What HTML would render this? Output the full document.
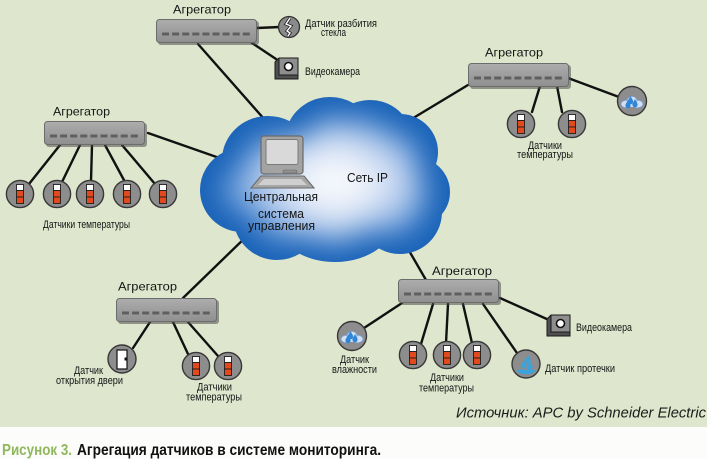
<!DOCTYPE html>
<html><head><meta charset="utf-8">
<style>
html,body{margin:0;padding:0;background:#fcfdfa;}
svg{display:block;}
text{font-family:"Liberation Sans","DejaVu Sans",sans-serif;}
</style></head>
<body>
<svg width="707" height="459" viewBox="0 0 707 459" xmlns="http://www.w3.org/2000/svg">
<defs>
  <linearGradient id="ag" x1="0" y1="0" x2="0" y2="1">
    <stop offset="0" stop-color="#adadad"/>
    <stop offset="1" stop-color="#8f8f8f"/>
  </linearGradient>
  <radialGradient id="rg" gradientUnits="userSpaceOnUse" cx="335" cy="182" r="120" gradientTransform="translate(335 182) scale(1 0.72) translate(-335 -182)">
    <stop offset="0" stop-color="#ffffff"/>
    <stop offset="0.45" stop-color="#f3f6fc"/>
    <stop offset="0.75" stop-color="#b9cfee"/>
    <stop offset="1" stop-color="#6c9fdc"/>
  </radialGradient>
  <g id="agg">
    <rect x="2" y="2" width="101" height="24" rx="3" fill="#4e4e4e" opacity=".55"/>
    <rect x="0.5" y="0.5" width="100" height="23" rx="3" fill="url(#ag)" stroke="#6c6c6c"/>
    <g fill="#5f5f5f">
      <rect x="6" y="13.5" width="7" height="3"/>
      <rect x="16.1" y="13.5" width="7" height="3"/>
      <rect x="26.2" y="13.5" width="7" height="3"/>
      <rect x="36.3" y="13.5" width="7" height="3"/>
      <rect x="46.4" y="13.5" width="7" height="3"/>
      <rect x="56.5" y="13.5" width="7" height="3"/>
      <rect x="66.6" y="13.5" width="7" height="3"/>
      <rect x="76.7" y="13.5" width="7" height="3"/>
      <rect x="86.8" y="13.5" width="7" height="3"/>
    </g>
  </g>
  <g id="temp">
    <circle r="13.6" fill="#8d8d8d" stroke="#383838" stroke-width="1.4"/>
    <rect x="-3.5" y="-9.5" width="7" height="6" fill="#fff" stroke="#1e1e1e" stroke-width=".9"/>
    <rect x="-3.5" y="-3.5" width="7" height="6.5" fill="#e2491c" stroke="#1e1e1e" stroke-width=".9"/>
    <rect x="-3.5" y="3" width="7" height="6.5" fill="#e2491c" stroke="#1e1e1e" stroke-width=".9"/>
  </g>
  <g id="cam">
    <polygon points="4,0 23,0 23,21 0,21 0,4" fill="#4f4f4f" stroke="#1a1a1a" stroke-width="1"/>
    <rect x="4" y="0" width="19" height="17" fill="#8e8e8e" stroke="#1a1a1a" stroke-width="1"/>
    <circle cx="13.5" cy="8.5" r="4" fill="#fff" stroke="#111" stroke-width="1.6"/>
  </g>
  <path id="drop" d="M0,-4 C1.2,-1.5 2.6,0 2.6,1.6 A2.6,2.6 0 0 1 -2.6,1.6 C-2.6,0 -1.2,-1.5 0,-4Z"/>
  <g id="hum">
    <circle r="14.5" fill="#8d8d8d" stroke="#383838" stroke-width="1.4"/>
    <g fill="#d3e0f3" stroke="#7d9fd0" stroke-width=".8">
      <ellipse cx="-5.5" cy="3" rx="5.5" ry="3.8"/>
      <ellipse cx="5.5" cy="3" rx="5.5" ry="3.8"/>
      <ellipse cx="0" cy="0" rx="5" ry="4.6"/>
    </g>
    <ellipse cx="0" cy="3" rx="9" ry="3" fill="#d3e0f3"/>
    <use href="#drop" x="-1.5" y="-1" fill="#2f86d6"/>
    <use href="#drop" x="3" y="2" fill="#2f86d6"/>
    <use href="#drop" x="-4" y="3" fill="#2f86d6"/>
  </g>
  <g id="leak">
    <circle r="14" fill="#8d8d8d" stroke="#383838" stroke-width="1.4"/>
    <use href="#drop" x="2" y="-5" fill="#3aa3dc"/>
    <use href="#drop" x="-2" y="0" fill="#3aa3dc"/>
    <use href="#drop" x="4" y="1.5" fill="#3aa3dc"/>
    <path d="M-10,7 Q-4,4 0,6 Q4,4 10,7 Q4,11 0,10 Q-4,11 -10,7Z" fill="#3aa3dc"/>
  </g>
  <clipPath id="cc">
    <ellipse cx="330" cy="185" rx="92" ry="62"/>
    <ellipse cx="330" cy="140" rx="45" ry="43"/>
    <ellipse cx="370" cy="140" rx="42" ry="40"/>
    <ellipse cx="268" cy="160" rx="46" ry="44"/>
    <circle cx="242" cy="190" r="42"/>
    <circle cx="277" cy="216" r="44"/>
    <ellipse cx="335" cy="216" rx="62" ry="46"/>
    <circle cx="400" cy="212" r="42"/>
    <ellipse cx="412" cy="192" rx="38" ry="36"/>
    <circle cx="400" cy="152" r="38"/>
  </clipPath>
  <filter id="soft" x="-30%" y="-30%" width="160%" height="160%">
    <feMorphology operator="erode" radius="16"/>
    <feGaussianBlur stdDeviation="14"/>
  </filter>
</defs>

<!-- backgrounds -->
<rect x="0" y="0" width="707" height="427" fill="#dee6cd"/>
<rect x="0" y="427" width="707" height="32" fill="#fcfdfa"/>

<!-- connectors -->
<g stroke="#111" stroke-width="2.4" stroke-linecap="round" fill="none">
  <line x1="198" y1="44" x2="265" y2="120"/>
  <line x1="257" y1="28" x2="280" y2="27"/>
  <line x1="252" y1="43" x2="279" y2="61"/>
  <line x1="148" y1="133" x2="228" y2="161"/>
  <line x1="60" y1="145" x2="29" y2="184"/>
  <line x1="80" y1="145" x2="62" y2="182"/>
  <line x1="92" y1="145" x2="91" y2="181"/>
  <line x1="105" y1="145" x2="125" y2="182"/>
  <line x1="122" y1="145" x2="155" y2="184"/>
  <line x1="468" y1="85" x2="405" y2="123"/>
  <line x1="540" y1="86" x2="532" y2="112"/>
  <line x1="557" y1="86" x2="562" y2="112"/>
  <line x1="568" y1="78" x2="619" y2="97"/>
  <line x1="183" y1="298" x2="250" y2="233"/>
  <line x1="150" y1="322" x2="133" y2="348"/>
  <line x1="173" y1="322" x2="188" y2="354"/>
  <line x1="188" y1="322" x2="218" y2="356"/>
  <line x1="426" y1="280" x2="404" y2="242"/>
  <line x1="402" y1="303" x2="364" y2="328"/>
  <line x1="433" y1="304" x2="421" y2="344"/>
  <line x1="448" y1="304" x2="446" y2="343"/>
  <line x1="463" y1="304" x2="472" y2="343"/>
  <line x1="483" y1="304" x2="517" y2="353"/>
  <line x1="500" y1="298" x2="549" y2="320"/>
</g>

<!-- cloud -->
<g clip-path="url(#cc)">
  <rect x="190" y="90" width="270" height="180" fill="#1a63b8"/>
  <g filter="url(#soft)" fill="url(#rg)">
    <ellipse cx="330" cy="185" rx="92" ry="62"/>
    <ellipse cx="330" cy="140" rx="45" ry="43"/>
    <ellipse cx="370" cy="140" rx="42" ry="40"/>
    <ellipse cx="268" cy="160" rx="46" ry="44"/>
    <circle cx="242" cy="190" r="42"/>
    <circle cx="277" cy="216" r="44"/>
    <ellipse cx="335" cy="216" rx="62" ry="46"/>
    <circle cx="400" cy="212" r="42"/>
    <ellipse cx="412" cy="192" rx="38" ry="36"/>
    <circle cx="400" cy="152" r="38"/>
  </g>
</g>

<!-- computer -->
<rect x="261" y="136" width="42" height="38" rx="3" fill="#a3a3a3" stroke="#6a6a6a" stroke-width="1.2"/>
<rect x="266" y="139.5" width="32" height="25" rx="2" fill="#d9d9d9" stroke="#7a7a7a" stroke-width="1"/>
<rect x="283" y="170" width="14" height="3" rx="1.5" fill="#8f8f8f" stroke="#6a6a6a" stroke-width=".6"/>
<polygon points="261,176 304,176 314,188 251,188" fill="#a6a6a6" stroke="#6a6a6a" stroke-width="1.1"/>
<polygon points="264,179 301,179 307,185 258,185" fill="#cfcfcf"/>

<!-- cloud texts -->
<g fill="#151515" font-size="12.5">
  <text x="347" y="182" textLength="41" lengthAdjust="spacingAndGlyphs">Сеть IP</text>
  <text x="244" y="201" textLength="74" lengthAdjust="spacingAndGlyphs">Центральная</text>
  <text x="258" y="218" textLength="46" lengthAdjust="spacingAndGlyphs">система</text>
  <text x="248" y="230" textLength="67" lengthAdjust="spacingAndGlyphs">управления</text>
</g>

<!-- aggregators -->
<use href="#agg" x="156" y="19"/>
<use href="#agg" x="44" y="121"/>
<use href="#agg" x="468" y="63"/>
<use href="#agg" x="116" y="298"/>
<use href="#agg" x="398" y="279"/>

<!-- top group devices -->
<circle cx="289" cy="27" r="10.5" fill="#8a8a8a" stroke="#333" stroke-width="1.3"/>
<path d="M290,18 L286,24 L291,26 L287,31 L290,33 L288,36" fill="none" stroke="#222" stroke-width="3"/>
<path d="M290,18 L286,24 L291,26 L287,31 L290,33 L288,36" fill="none" stroke="#fff" stroke-width="1.4"/>
<use href="#cam" x="275" y="58"/>

<!-- left temps -->
<use href="#temp" x="20" y="194"/>
<use href="#temp" x="57" y="194"/>
<use href="#temp" x="90" y="194"/>
<use href="#temp" x="127" y="194"/>
<use href="#temp" x="163" y="194"/>

<!-- right group -->
<use href="#temp" x="521" y="124"/>
<use href="#temp" x="572" y="124"/>
<use href="#hum" x="632" y="101"/>

<!-- bottom-left group -->
<circle cx="122" cy="359" r="14" fill="#8d8d8d" stroke="#383838" stroke-width="1.4"/>
<rect x="117" y="350" width="10" height="19" fill="#fff" stroke="#111" stroke-width="1.2"/>
<rect x="124.5" y="357.5" width="3" height="3" fill="#111"/>
<use href="#temp" x="196" y="366"/>
<use href="#temp" x="228" y="366"/>

<!-- bottom-right group -->
<use href="#hum" x="352" y="336"/>
<use href="#temp" x="413" y="355"/>
<use href="#temp" x="447" y="355"/>
<use href="#temp" x="477" y="355"/>
<use href="#leak" x="526" y="364"/>
<use href="#cam" x="547" y="315"/>

<!-- aggregator labels -->
<g fill="#151515" font-size="12">
  <text x="173" y="13.3" textLength="58" lengthAdjust="spacingAndGlyphs">Агрегатор</text>
  <text x="53" y="115.5" textLength="57" lengthAdjust="spacingAndGlyphs">Агрегатор</text>
  <text x="485" y="56.5" textLength="58" lengthAdjust="spacingAndGlyphs">Агрегатор</text>
  <text x="118" y="290.5" textLength="59" lengthAdjust="spacingAndGlyphs">Агрегатор</text>
  <text x="432" y="275" textLength="60" lengthAdjust="spacingAndGlyphs">Агрегатор</text>
</g>

<!-- small labels -->
<g fill="#151515" font-size="11">
  <text x="305" y="27" textLength="72" lengthAdjust="spacingAndGlyphs">Датчик разбития</text>
  <text x="321" y="36" textLength="25" lengthAdjust="spacingAndGlyphs">стекла</text>
  <text x="305" y="75" textLength="55" lengthAdjust="spacingAndGlyphs">Видеокамера</text>
  <text x="43" y="228" textLength="87" lengthAdjust="spacingAndGlyphs">Датчики температуры</text>
  <text x="528" y="149" textLength="34" lengthAdjust="spacingAndGlyphs">Датчики</text>
  <text x="517" y="158" textLength="56" lengthAdjust="spacingAndGlyphs">температуры</text>
  <text x="74" y="374" textLength="29" lengthAdjust="spacingAndGlyphs">Датчик</text>
  <text x="56" y="384" textLength="67" lengthAdjust="spacingAndGlyphs">открытия двери</text>
  <text x="197" y="390.5" textLength="35" lengthAdjust="spacingAndGlyphs">Датчики</text>
  <text x="186" y="400.5" textLength="56" lengthAdjust="spacingAndGlyphs">температуры</text>
  <text x="340" y="363" textLength="29" lengthAdjust="spacingAndGlyphs">Датчик</text>
  <text x="332" y="373" textLength="45" lengthAdjust="spacingAndGlyphs">влажности</text>
  <text x="430" y="381" textLength="34" lengthAdjust="spacingAndGlyphs">Датчики</text>
  <text x="419" y="391.5" textLength="55" lengthAdjust="spacingAndGlyphs">температуры</text>
  <text x="545" y="372" textLength="70" lengthAdjust="spacingAndGlyphs">Датчик протечки</text>
  <text x="576" y="331" textLength="56" lengthAdjust="spacingAndGlyphs">Видеокамера</text>
</g>

<!-- source -->
<text x="456" y="417.5" font-size="15" font-style="italic" fill="#1c1c1c" textLength="250" lengthAdjust="spacingAndGlyphs">Источник: APC by Schneider Electric</text>

<!-- caption -->
<text x="2" y="455" font-size="16" font-weight="bold" fill="#8fb85c" textLength="70" lengthAdjust="spacingAndGlyphs">Рисунок 3.</text>
<text x="77" y="455" font-size="16" font-weight="bold" fill="#111" textLength="304" lengthAdjust="spacingAndGlyphs">Агрегация датчиков в системе мониторинга.</text>
</svg>
</body></html>
